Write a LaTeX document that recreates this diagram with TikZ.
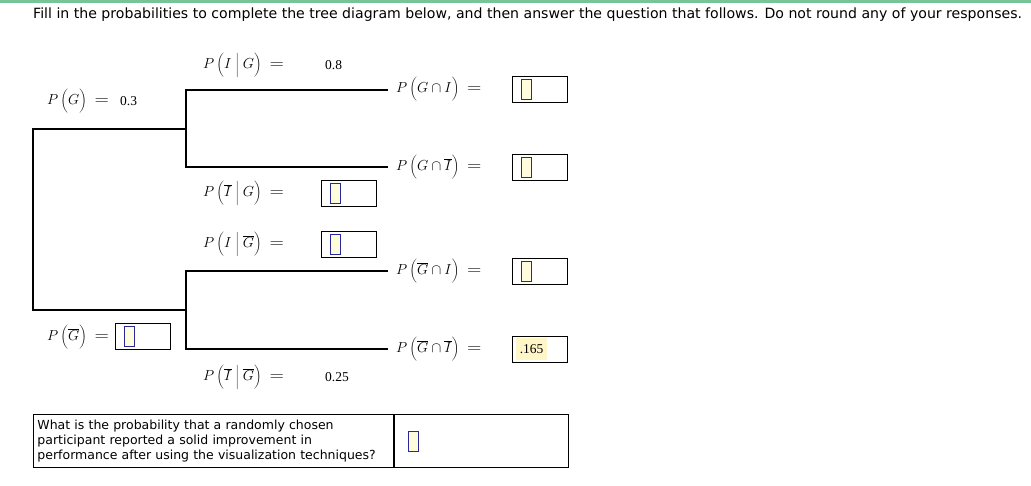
\documentclass[tikz,border=0pt]{standalone}
\usepackage{fontspec}
\usepackage{fix-cm}
\newfontfamily\uifont{DejaVu Sans}
\newfontfamily\numfont{Liberation Serif}
\usetikzlibrary{positioning}
\definecolor{topgreen}{RGB}{118,196,152}
\definecolor{curblue}{RGB}{40,40,150}
\definecolor{curyellow}{RGB}{255,252,222}
\definecolor{softyellow}{RGB}{255,246,200}
\tikzset{
  % tree branches
  branch/.style={line width=1.2pt},
  % answer boxes and the blinking cursor inside them
  ansbox/.style={draw,line width=0.9pt,minimum width=55pt,minimum height=26pt,inner sep=0pt},
  cursor/.style={draw=curblue,fill=curyellow,line width=0.8pt,minimum width=10pt,minimum height=20pt,inner sep=0pt},
  plabel/.style={anchor=west,inner sep=0pt,font=\fontsize{14.5}{16}\selectfont},
  given/.style={anchor=west,inner sep=0pt,font=\numfont\fontsize{13.5}{15}\selectfont},
  qcell/.style={draw,line width=0.9pt,anchor=north west,inner sep=0pt},
}
\newcommand{\gbar}{\overline{G}}
\newcommand{\ibar}{\overline{I}}
\newcommand{\eqs}{\mathrel{\scalebox{1.3}[1.1]{$=$}}}
\newcommand{\pr}[1]{P\,\biggl(#1\biggr)\;\eqs}
\newcommand{\given}{\;\bigg|\;}
\begin{document}
\begin{tikzpicture}[x=1pt,y=-1pt]
  \useasboundingbox (0,0) rectangle (1031,485);
  \fill[topgreen] (0,0) rectangle (1031,2.5);
  \node[anchor=west,inner sep=0pt,font=\uifont\fontsize{14.1}{16}\selectfont] (title) at (33,15)
    {Fill in the probabilities to complete the tree diagram below, and then answer the question that follows. Do not round any of your responses.};

  % tree
  \coordinate (r1) at (33,129);
  \coordinate (r2) at (33,310);
  \coordinate (G) at (186,129);
  \coordinate (Gb) at (186,310);
  \coordinate (G1) at (186,90);
  \coordinate (G2) at (186,167);
  \coordinate (GI) at (388,90);
  \coordinate (GIb) at (388,167);
  \coordinate (Gb1) at (186,271);
  \coordinate (Gb2) at (186,349);
  \coordinate (GbI) at (388,271);
  \coordinate (GbIb) at (388,349);
  \draw[branch] (G) -- (r1) -- (r2) -- (Gb);
  \draw[branch] (GI) -- (G1) -- (G2) -- (GIb);
  \draw[branch] (GbI) -- (Gb1) -- (Gb2) -- (GbIb);

  % first level
  \node[plabel] (pG) at (47,101) {$\pr{G}$};
  \node[given] (vG) at (120,101) {0.3};
  \node[plabel] (pGb) at (47,337) {$\pr{\gbar}$};
  \node[ansbox] (bGb) at (143,336) {};
  \node[cursor,right=9pt of bGb.west] (cGb) {};

  % conditionals
  \node[plabel] (pIG) at (203,65) {$\pr{I\given G}$};
  \node[given] (vIG) at (325,65) {0.8};
  \node[plabel] (pIbG) at (203,193) {$\pr{\ibar\given G}$};
  \node[ansbox] (bIbG) at (349,193) {};
  \node[cursor,right=9pt of bIbG.west] (cIbG) {};
  \node[plabel] (pIGb) at (203,244) {$\pr{I\given\gbar}$};
  \node[ansbox] (bIGb) at (349,244.5) {};
  \node[cursor,right=9pt of bIGb.west] (cIGb) {};
  \node[plabel] (pIbGb) at (203,377) {$\pr{\ibar\given\gbar}$};
  \node[given] (vIbGb) at (325,377) {0.25};

  % joint probabilities
  \node[plabel] (pGI) at (396,89) {$\pr{G\cap I}$};
  \node[ansbox] (bGI) at (539.5,89) {};
  \node[cursor,right=9pt of bGI.west] (cGI) {};
  \node[plabel] (pGIb) at (396,167) {$\pr{G\cap\ibar}$};
  \node[ansbox] (bGIb) at (539.5,167) {};
  \node[cursor,right=9pt of bGIb.west] (cGIb) {};
  \node[plabel] (pGbI) at (396,271) {$\pr{\gbar\cap I}$};
  \node[ansbox] (bGbI) at (539.5,271) {};
  \node[cursor,right=9pt of bGbI.west] (cGbI) {};
  \node[plabel] (pGbIb) at (396,349) {$\pr{\gbar\cap\ibar}$};
  \node[ansbox] (bGbIb) at (539.5,349) {};
  \node[given,fill=softyellow,inner xsep=4pt,minimum height=22pt,right=4pt of bGbIb.west] (vGbIb) {.165};

  % question
  \node[qcell,minimum width=360pt,minimum height=53pt,text width=352pt,align=left,
        font=\uifont\fontsize{12.5}{15}\selectfont] (qtext) at (33,414)
    {What is the probability that a randomly chosen\\participant reported a solid improvement in\\performance after using the visualization techniques?};
  \node[qcell,minimum width=174pt,minimum height=53pt] (qans) at (qtext.north east) {};
  \node[cursor,right=14pt of qans.west] (cq) {};
\end{tikzpicture}
\end{document}
